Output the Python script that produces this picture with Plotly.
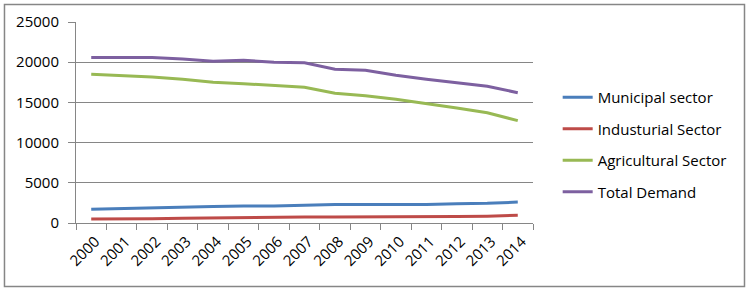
import plotly.graph_objects as go

years = [str(y) for y in range(2000, 2015)]
municipal = [1700, 1800, 1850, 1950, 2050, 2100, 2100, 2200, 2300, 2300, 2300, 2300, 2400, 2450, 2600]
industrial = [500, 500, 520, 600, 650, 700, 700, 750, 750, 750, 750, 750, 800, 850, 950]
agricultural = [18500, 18330, 18160, 17870, 17500, 17330, 17080, 16880, 16130, 15840, 15380, 14880, 14300, 13720, 12730]
total = [20600, 20600, 20600, 20400, 20110, 20240, 19990, 19940, 19120, 18990, 18370, 17870, 17450, 17000, 16210]

series_names = ["Municipal sector", "Industurial Sector", "Agricultural Sector", "Total Demand"]
series_vals = [municipal, industrial, agricultural, total]
colors = ["#4A7EBB", "#BE4B48", "#98B954", "#7D60A0"]

fig = go.Figure()
for i, (n, v, c) in enumerate(zip(series_names, series_vals, colors)):
    fig.add_trace(go.Scatter(x=years, y=v, name=n, mode="lines",
                             line=dict(color=c, width=3),
                             legendgroup=str(i)))

font = dict(family="Open Sans, Liberation Sans, sans-serif", size=15, color="#000000")
fig.update_layout(
    width=750, height=291,
    margin=dict(l=76, r=217, t=22, b=68),
    paper_bgcolor="white", plot_bgcolor="white",
    font=font,
    showlegend=True,
    legend=dict(x=1.054, xanchor="left", y=0.39, yanchor="middle",
                tracegroupgap=9, font=dict(size=15), itemwidth=30,
                bgcolor="rgba(0,0,0,0)"),
    xaxis=dict(type="category", showgrid=False, showline=True, linecolor="#868686",
               ticks="outside", tickson="boundaries", ticklen=6, tickcolor="#868686",
               tickangle=-45, tickfont=dict(size=15), range=[-0.5, 14.5],
               ticklabelshift=4, ticklabelstandoff=3,
               automargin=False),
    yaxis=dict(range=[0, 25000], dtick=5000, showgrid=True, gridcolor="#868686",
               showline=True, linecolor="#868686", ticks="outside", ticklen=7,
               tickcolor="#868686", tickfont=dict(size=15), zeroline=False,
               tickformat="d", ticklabelstandoff=6, automargin=False),
)
fig.add_shape(type="rect", xref="paper", yref="paper",
              x0=-0.1565, x1=1.4628, y0=-0.316, y1=1.087,
              line=dict(color="#868686", width=1.5))
fig.write_html("out.html", config={"displayModeBar": False},
               post_script="document.body.style.margin='0';document.body.style.overflow='hidden';")
